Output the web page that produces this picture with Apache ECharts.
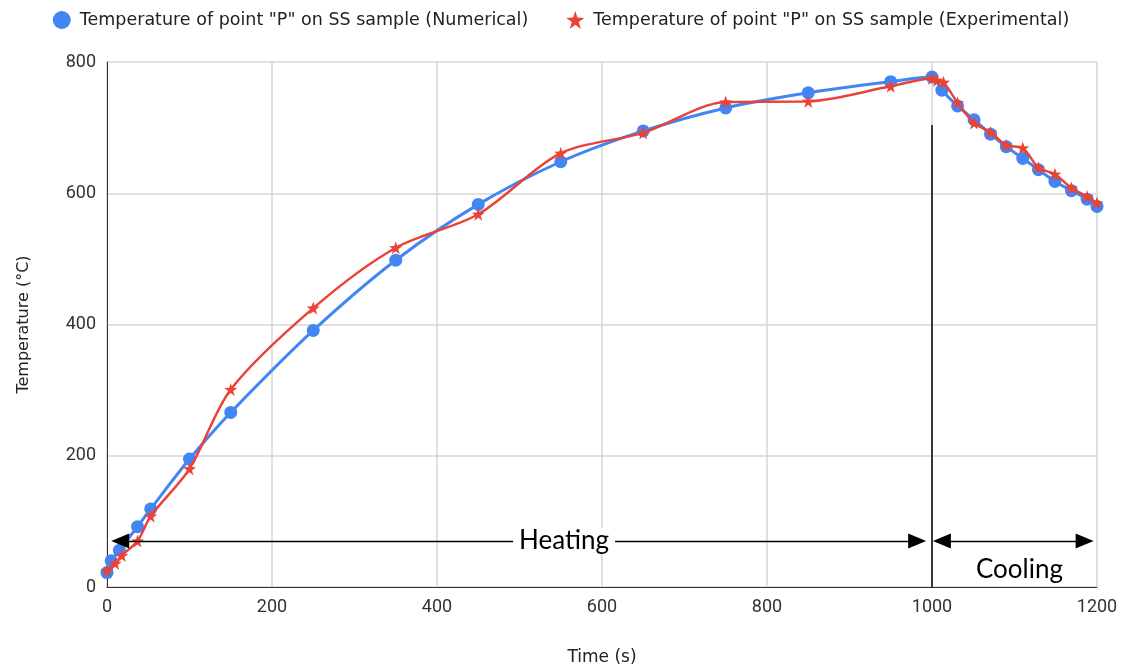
<!DOCTYPE html>
<html>
<head>
<meta charset="utf-8">
<script src="https://cdn.jsdelivr.net/npm/echarts@6/dist/echarts.min.js"></script>
<style>
  html, body { margin: 0; padding: 0; background: #fff; }
  #chart { width: 1122px; height: 667px; }
</style>
</head>
<body>
<div id="chart"></div>
<script>
// Time (s) and temperature (°C) at point "P"
const numericalTime = [0, 5, 15, 37, 53, 100, 150, 250, 350, 450, 550, 650, 750, 850, 950, 1000,
  1012, 1031, 1051, 1071, 1090, 1110, 1129, 1149, 1169, 1188, 1200];
const numericalTemp = [22, 40, 56, 92, 119, 195, 266, 391, 498, 583, 648, 695, 730, 753, 770, 777,
  757, 733, 712, 690, 671, 653, 636, 618, 604, 591, 580];

const experimentalTime = [0, 10, 18, 37, 53, 100, 150, 250, 350, 450, 550, 650, 750, 850, 950, 1000,
  1006, 1014, 1031, 1051, 1071, 1090, 1110, 1129, 1149, 1169, 1188, 1200];
const experimentalTemp = [25, 36, 48, 70, 108, 180, 301, 425, 517, 568, 661, 692, 739, 740, 763, 775,
  772, 769, 738, 707, 693, 673, 669, 639, 629, 608, 595, 585];

const xTicks = [0, 200, 400, 600, 800, 1000, 1200];
const yTicks = [0, 200, 400, 600, 800];

const seriesNames = [
  'Temperature of point "P" on SS sample (Numerical)',
  'Temperature of point "P" on SS sample (Experimental)'
];

// Phase annotations
const phaseBoundary = 1000;
const boundaryTop = 704;
const arrowLevel = 70;
const heatingSpan = [16, 982];
const coolingSpan = [1012, 1185];
const heatingLabel = { text: 'Heating', time: 554, temp: 70 };
const coolingLabel = { text: 'Cooling', time: 1106, temp: 26 };

const starPath = 'path://M50,0 L61.8,36.2 L100,38.2 L69.1,61.8 L80.9,100 L50,76.4 L19.1,100 L30.9,61.8 L0,38.2 L38.2,36.2 Z';

const pairs = (xs, ys) => xs.map((x, i) => [x, ys[i]]);

const chart = echarts.init(document.getElementById('chart'), null, { renderer: 'canvas' });

const uiFont = '"DejaVu Sans", Arial, sans-serif';
const tickFont = 'Roboto, Arial, sans-serif';
const annotationFont = { fontFamily: 'Lato, "Open Sans", sans-serif', fontSize: 26, color: '#000' };

chart.setOption({
  animation: false,
  backgroundColor: '#fff',
  textStyle: { fontFamily: uiFont },
  legend: {
    top: 6,
    left: 'center',
    itemGap: 38,
    itemWidth: 18,
    itemHeight: 18,
    textStyle: { fontSize: 17.5, color: '#222', fontFamily: uiFont, padding: [0, 0, 0, 4] },
    data: [
      { name: seriesNames[0], icon: 'circle' },
      { name: seriesNames[1], icon: starPath }
    ]
  },
  grid: { left: 107, right: 25, top: 62, bottom: 80, outerBoundsMode: 'none', containLabel: false },
  xAxis: {
    type: 'value',
    min: xTicks[0],
    max: xTicks[xTicks.length - 1],
    interval: 200,
    name: 'Time (s)',
    nameLocation: 'middle',
    nameGap: 62,
    nameTextStyle: { fontSize: 17, color: '#222', fontFamily: uiFont },
    axisLine: { show: true, lineStyle: { color: '#333', width: 1 } },
    axisTick: { show: false },
    axisLabel: { fontSize: 18, color: '#333', margin: 11, fontFamily: tickFont, formatter: v => String(v) },
    splitLine: { show: true, lineStyle: { color: '#d6d6d6', width: 1.5 } }
  },
  yAxis: {
    type: 'value',
    min: yTicks[0],
    max: yTicks[yTicks.length - 1],
    interval: 200,
    name: 'Temperature (°C)',
    nameLocation: 'middle',
    nameGap: 75,
    nameTextStyle: { fontSize: 16, color: '#222', fontFamily: uiFont },
    axisLine: { show: true, lineStyle: { color: '#333', width: 1 } },
    axisTick: { show: false },
    axisLabel: { fontSize: 18, color: '#333', margin: 11, fontFamily: tickFont, formatter: v => String(v) },
    splitLine: { show: true, lineStyle: { color: '#d6d6d6', width: 1.5 } }
  },
  series: [
    {
      name: seriesNames[0],
      type: 'line',
      data: pairs(numericalTime, numericalTemp),
      smooth: 0.3,
      symbol: 'circle',
      symbolSize: 13,
      itemStyle: { color: '#4285F4' },
      lineStyle: { color: '#4285F4', width: 3 },
      z: 2
    },
    {
      name: seriesNames[1],
      type: 'line',
      data: pairs(experimentalTime, experimentalTemp),
      smooth: 0.3,
      symbol: starPath,
      symbolSize: 13,
      itemStyle: { color: '#EA4335' },
      lineStyle: { color: '#EA4335', width: 2.5 },
      z: 3
    },
    {
      // phase boundary and heating / cooling arrows
      name: 'phases',
      type: 'line',
      data: [],
      silent: true,
      z: 5,
      markLine: {
        silent: true,
        animation: false,
        label: { show: false },
        emphasis: { disabled: true },
        data: [
          [
            { coord: [phaseBoundary, boundaryTop], symbol: 'none', lineStyle: { color: '#000', width: 1.5, type: 'solid' } },
            { coord: [phaseBoundary, 0], symbol: 'none' }
          ],
          [
            { coord: [heatingSpan[0], arrowLevel], symbol: 'triangle', symbolSize: [15, 18], symbolRotate: 90, lineStyle: { color: '#000', width: 1.3, type: 'solid' } },
            { coord: [heatingSpan[1], arrowLevel], symbol: 'triangle', symbolSize: [15, 18], symbolRotate: -90 }
          ],
          [
            { coord: [coolingSpan[0], arrowLevel], symbol: 'triangle', symbolSize: [15, 18], symbolRotate: 90, lineStyle: { color: '#000', width: 1.3, type: 'solid' } },
            { coord: [coolingSpan[1], arrowLevel], symbol: 'triangle', symbolSize: [15, 18], symbolRotate: -90 }
          ]
        ],
        itemStyle: { color: '#000' }
      },
      markPoint: {
        silent: true,
        symbol: 'rect',
        symbolSize: 1,
        itemStyle: { color: 'rgba(0,0,0,0)' },
        data: [
          {
            coord: [heatingLabel.time, heatingLabel.temp],
            label: Object.assign({ show: true, formatter: heatingLabel.text, position: 'inside',
              backgroundColor: '#fff', padding: [0, 6] }, annotationFont)
          },
          {
            coord: [coolingLabel.time, coolingLabel.temp],
            label: Object.assign({ show: true, formatter: coolingLabel.text, position: 'inside' }, annotationFont)
          }
        ]
      }
    }
  ]
});
</script>
</body>
</html>
